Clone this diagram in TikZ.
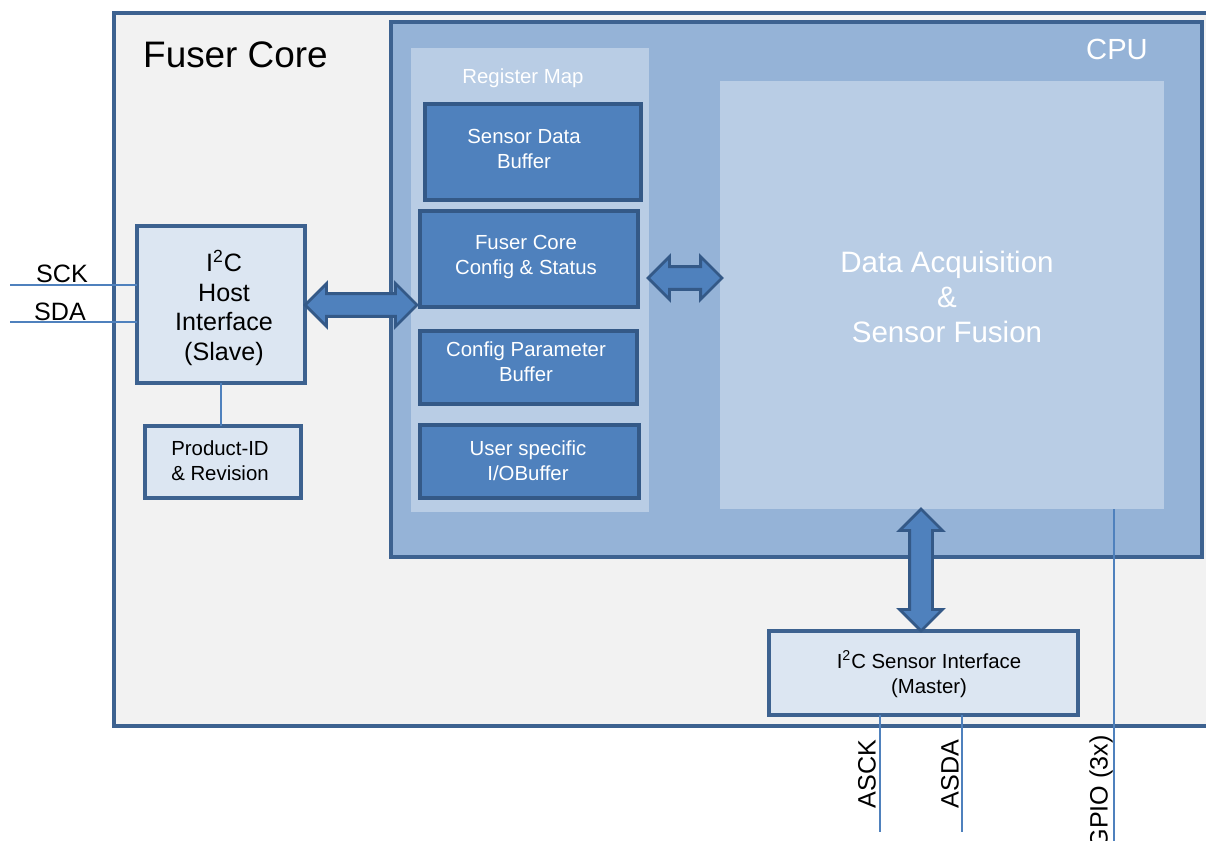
\documentclass[tikz,border=0pt]{standalone}
\usepackage{fontspec}
\setmainfont{Liberation Sans}
\usetikzlibrary{fit,shapes.arrows,calc}
\definecolor{corebg}{HTML}{F2F2F2}
\definecolor{frameblue}{HTML}{3D6290}
\definecolor{cpubg}{HTML}{95B3D7}
\definecolor{mapbg}{HTML}{B9CDE5}
\definecolor{regblue}{HTML}{4F81BD}
\definecolor{regframe}{HTML}{345987}
\definecolor{ifbg}{HTML}{DCE6F2}
\newcommand\fcoretitle{\fontsize{21}{24}\selectfont}
\newcommand\fpin{\fontsize{14.3}{16.8}\selectfont}
\newcommand\freg{\fontsize{11.6}{14.2}\selectfont}
\newcommand\fcpu{\fontsize{16.6}{19.8}\selectfont}
\begin{document}
\begin{tikzpicture}[x=0.02cm,y=-0.02cm]
  \tikzstyle{area}=[inner sep=0pt, outer sep=0pt]
  \tikzstyle{corebox}=[area, fill=corebg, draw=frameblue, line width=2.2pt]
  \tikzstyle{cpubox}=[area, fill=cpubg, draw=frameblue, line width=2.7pt]
  \tikzstyle{mapbox}=[area, fill=mapbg]
  \tikzstyle{regbox}=[area, fill=regblue, draw=regframe, line width=2.3pt]
  \tikzstyle{ifbox}=[area, fill=ifbg, draw=frameblue, line width=2.5pt]
  \tikzstyle{regtext}=[text=white, align=center, font=\freg]
  \tikzstyle{iftext}=[text=black, align=center, font=\freg]
  \tikzstyle{dblarrow}=[double arrow, fill=regblue, draw=regframe, line width=1.6pt, inner sep=2mm, minimum width=8mm, double arrow head extend=2mm]
  \tikzstyle{sigline}=[draw=regblue, line width=0.8pt]
  \useasboundingbox (0,0) rectangle (1206,841);
  % outer block
  \node[corebox, fit={(114,13) (1240,726)}] (core) {};
  \node[anchor=west] (coretitle) at (137,55) {\fcoretitle Fuser Core};
  % cpu
  \node[cpubox, fit={(391,22) (1202,557)}] (cpu) {};
  \node[text=white] (cputitle) at (1117,49) {\fcpu CPU};
  \node[mapbox, fit={(411,48) (649,512)}] (regmap) {};
  \node[text=white] (maptitle) at (523,78) {\freg Register Map};
  \node[regbox, fit={(425,104) (641,200)}] (sensbuf) {};
  \node[regtext] (sensbuftext) at (524,149) {Sensor Data\\Buffer};
  \node[regbox, fit={(420,211) (638,307)}] (corecfg) {};
  \node[regtext] (corecfgtext) at (526,257) {Fuser Core\\Config \& Status};
  \node[regbox, fit={(420,331) (637,404)}] (parambuf) {};
  \node[regtext] (parambuftext) at (526,362) {Config Parameter\\Buffer};
  \node[regbox, fit={(420,425) (639,498)}] (iobuf) {};
  \node[regtext] (iobuftext) at (528,461) {User specific\\I/OBuffer};
  \node[mapbox, fit={(720,81) (1164,509)}] (acq) {};
  \node[text=white, align=center, font=\fontsize{16.8}{19.8}\selectfont] (acqtext) at (947,297) {Data Acquisition\\\&\\Sensor Fusion};
  % interfaces
  \node[ifbox, fit={(137,226) (305,383)}] (host) {};
  \node[iftext, font=\fpin] (hosttext) at (224,308) {I\textsuperscript{2}C\\Host\\Interface\\(Slave)};
  \node[ifbox, fit={(145,426) (301,498)}] (prodid) {};
  \node[iftext] (prodidtext) at (220,461) {Product-ID\\\& Revision};
  \node[ifbox, fit={(769,631) (1078,715)}] (sensif) {};
  \node[iftext] (sensiftext) at (929,674) {I\textsuperscript{2}C Sensor Interface\\(Master)};
  % block arrows
  \node[dblarrow, minimum height=22.4mm] (hostarrow) at (361,305) {};
  \node[dblarrow, minimum height=14.8mm] (acqarrow) at (685,278) {};
  \node[dblarrow, minimum height=24.4mm, shape border rotate=90] (sensarrow) at (921,570) {};
  % signals
  \coordinate (sckend) at (10,285);
  \coordinate (sdaend) at (10,322);
  \coordinate (asckend) at (880,832);
  \coordinate (asdaend) at (962,832);
  \coordinate (gpioend) at (1114,850);
  \draw[sigline] (sckend) -- (sckend -| host.west);
  \draw[sigline] (sdaend) -- (sdaend -| host.west);
  \draw[sigline, line width=1.7pt] (host.south) -- (host.south |- prodid.north);
  \draw[sigline] (asckend |- sensif.south) -- (asckend);
  \draw[sigline] (asdaend |- sensif.south) -- (asdaend);
  \draw[sigline] (gpioend |- acq.south) -- (gpioend);
  \node (scklabel) at (62,274) {\fpin SCK};
  \node (sdalabel) at (60,312) {\fpin SDA};
  \node[rotate=90] (asclabel) at (867,774) {\fpin ASCK};
  \node[rotate=90] (asdlabel) at (950,774) {\fpin ASDA};
  \node[rotate=90] (gpiolabel) at (1101,792) {\fpin GPIO (3x)};
\end{tikzpicture}
\end{document}
